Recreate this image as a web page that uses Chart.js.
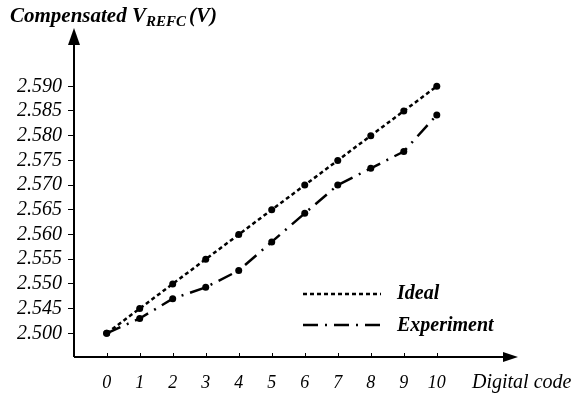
<!DOCTYPE html>
<html>
<head>
<meta charset="utf-8">
<script src="https://cdn.jsdelivr.net/npm/chart.js@4.4.0/dist/chart.umd.min.js"></script>
<style>
  html, body { margin: 0; padding: 0; background: #fff; }
  #wrap { width: 573px; height: 394px; }
</style>
</head>
<body>
<div id="wrap"><canvas id="chart" width="573" height="394"></canvas></div>
<script>
// data (volts)
const codes = [0, 1, 2, 3, 4, 5, 6, 7, 8, 9, 10];
const idealV = [2.500, 2.545, 2.550, 2.555, 2.560, 2.565, 2.570, 2.575, 2.580, 2.585, 2.590];
const experimentV = [2.500, 2.527, 2.547, 2.5493, 2.5527, 2.5585, 2.5643, 2.570, 2.5734, 2.5768, 2.5842];
const yTickVolts = [2.500, 2.545, 2.550, 2.555, 2.560, 2.565, 2.570, 2.575, 2.580, 2.585, 2.590];

// broken y axis: 2.500 -> 2.545 takes one step, then 0.005 per step
function toAxis(v) {
  return v <= 2.545 ? (v - 2.5) / 0.045 : 1 + (v - 2.545) / 0.005;
}
function fromAxis(a) {
  return a <= 1 ? 2.5 + a * 0.045 : 2.545 + (a - 1) * 0.005;
}

const serif = '"Liberation Serif", "DejaVu Serif", serif';

const axesPlugin = {
  id: 'axesDeco',
  afterDraw(chart) {
    const ctx = chart.ctx;
    const xs = chart.scales.x;
    const left = chart.chartArea.left, bottom = chart.chartArea.bottom;
    ctx.save();
    ctx.strokeStyle = '#000';
    ctx.fillStyle = '#000';
    // axis lines
    ctx.lineWidth = 2;
    ctx.beginPath();
    ctx.moveTo(left, bottom); ctx.lineTo(left, 40);
    ctx.moveTo(left, bottom); ctx.lineTo(506, bottom);
    ctx.stroke();
    // arrow heads
    ctx.beginPath();
    ctx.moveTo(left, 28); ctx.lineTo(left - 6, 45); ctx.lineTo(left + 6, 45); ctx.closePath();
    ctx.fill();
    ctx.beginPath();
    ctx.moveTo(518, bottom); ctx.lineTo(503, bottom - 5); ctx.lineTo(503, bottom + 5); ctx.closePath();
    ctx.fill();
    // x tick marks (upward)
    ctx.lineWidth = 1;
    ctx.beginPath();
    codes.forEach(c => {
      const px = Math.round(xs.getPixelForValue(c)) + 0.5;
      ctx.moveTo(px, bottom - 4); ctx.lineTo(px, bottom);
    });
    ctx.stroke();
    // title
    ctx.textBaseline = 'alphabetic';
    ctx.textAlign = 'left';
    ctx.font = 'italic bold 21px ' + serif;
    ctx.fillText('Compensated V', 10, 22);
    let w = ctx.measureText('Compensated V').width;
    ctx.font = 'italic bold 15px ' + serif;
    ctx.fillText('REFC', 10 + w, 26);
    w += ctx.measureText('REFC').width + 3;
    ctx.font = 'italic bold 21px ' + serif;
    ctx.fillText('(V)', 10 + w, 22);
    // x axis name
    ctx.font = 'italic 20px ' + serif;
    ctx.fillText('Digital code', 472, 388);
    // legend
    ctx.lineWidth = 2.5;
    ctx.setLineDash([4, 3]);
    ctx.beginPath(); ctx.moveTo(303, 294); ctx.lineTo(381, 294); ctx.stroke();
    ctx.setLineDash([15, 7, 2, 7]);
    ctx.beginPath(); ctx.moveTo(303, 325); ctx.lineTo(381, 325); ctx.stroke();
    ctx.setLineDash([]);
    ctx.font = 'italic bold 20px ' + serif;
    ctx.textBaseline = 'middle';
    ctx.fillText('Ideal', 397, 294);
    ctx.fillText('Experiment', 397, 326);
    ctx.restore();
  }
};

new Chart(document.getElementById('chart'), {
  type: 'line',
  data: {
    datasets: [
      {
        label: 'Ideal',
        data: codes.map((c, i) => ({ x: c, y: toAxis(idealV[i]) })),
        borderColor: '#000',
        backgroundColor: '#000',
        borderWidth: 2.5,
        borderDash: [4, 3],
        pointRadius: 3.5,
        pointBorderWidth: 0
      },
      {
        label: 'Experiment',
        data: codes.map((c, i) => ({ x: c, y: toAxis(experimentV[i]) })),
        borderColor: '#000',
        backgroundColor: '#000',
        borderWidth: 2.5,
        borderDash: [15, 7, 2, 7],
        pointRadius: 3.5,
        pointBorderWidth: 0
      }
    ]
  },
  options: {
    responsive: false,
    animation: false,
    devicePixelRatio: 1,
    layout: { padding: { left: 0, top: 28, right: 55, bottom: 0 } },
    plugins: { legend: { display: false }, tooltip: { enabled: false } },
    scales: {
      x: {
        type: 'linear',
        min: -0.99,
        max: 12.46,
        afterFit: s => { s.height = 37; },
        afterBuildTicks: s => { s.ticks = codes.map(c => ({ value: c })); },
        border: { display: false },
        grid: { display: false },
        ticks: {
          padding: 7,
          color: '#000',
          font: { family: serif, size: 18, style: 'italic' },
          maxRotation: 0,
          callback: v => String(v)
        }
      },
      y: {
        type: 'linear',
        min: -0.96,
        max: 12.36,
        afterFit: s => { s.width = 74; },
        afterBuildTicks: s => { s.ticks = yTickVolts.map(v => ({ value: toAxis(v) })); },
        border: { display: false },
        grid: { drawOnChartArea: false, drawTicks: true, tickLength: 6, color: '#000', lineWidth: 1 },
        ticks: {
          padding: 6,
          color: '#000',
          font: { family: serif, size: 20, style: 'italic' },
          callback: v => fromAxis(v).toFixed(3)
        }
      }
    }
  },
  plugins: [axesPlugin]
});
</script>
</body>
</html>
